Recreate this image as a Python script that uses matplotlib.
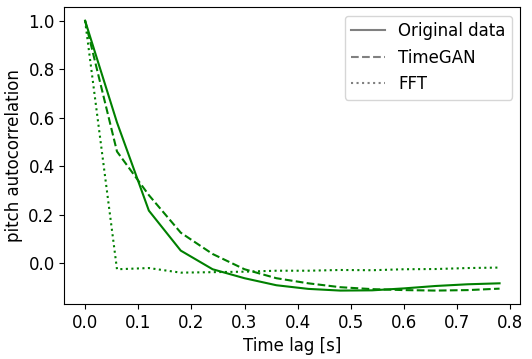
import numpy as np
import matplotlib.pyplot as plt
from matplotlib.lines import Line2D

lags = [0.0, 0.06, 0.12, 0.18, 0.24, 0.30, 0.36, 0.42, 0.48, 0.54, 0.60, 0.66, 0.72, 0.78]
original = [1.0, 0.58, 0.216, 0.051, -0.026, -0.063, -0.092, -0.107, -0.114, -0.113, -0.105, -0.095, -0.088, -0.084]
timegan = [1.0, 0.46, 0.28, 0.125, 0.037, -0.026, -0.063, -0.084, -0.100, -0.108, -0.112, -0.114, -0.112, -0.106]
fft = [1.0, -0.026, -0.021, -0.040, -0.038, -0.036, -0.032, -0.032, -0.029, -0.030, -0.026, -0.025, -0.021, -0.019]

plt.rcParams['font.size'] = 12
fig, ax = plt.subplots(figsize=(5.32, 3.59), dpi=100)
ax.plot(lags, original, color='green', linestyle='-', lw=1.5)
ax.plot(lags, timegan, color='green', linestyle='--', lw=1.5)
ax.plot(lags, fft, color='green', linestyle=':', lw=1.5)
ax.set_xlabel('Time lag [s]')
ax.set_ylabel('pitch autocorrelation')
ax.set_xticks(np.arange(0, 0.81, 0.1))
handles = [Line2D([], [], color='gray', linestyle='-'),
           Line2D([], [], color='gray', linestyle='--'),
           Line2D([], [], color='gray', linestyle=':')]
ax.legend(handles, ['Original data', 'TimeGAN', 'FFT'], loc='upper right')
fig.subplots_adjust(left=0.121, right=0.978, top=0.98, bottom=0.153)
fig.savefig('out.png', dpi=100)
